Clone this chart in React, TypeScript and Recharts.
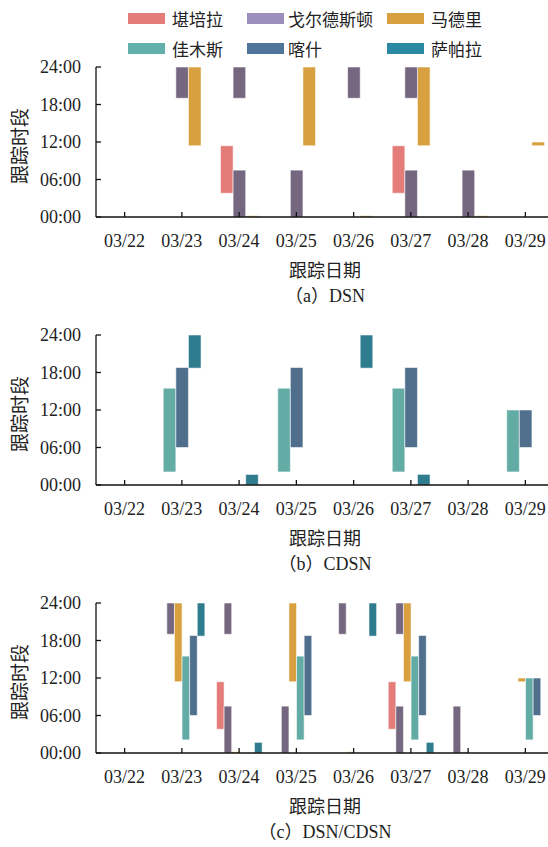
import { BarChart, Bar, XAxis, YAxis } from 'recharts';

// tracking dates (x categories)
const dates = ['03/22', '03/23', '03/24', '03/25', '03/26', '03/27', '03/28', '03/29'];

// y ticks (hours of day)
const yTickHours = [0, 6, 12, 18, 24];
const yTickLabels = ['00:00', '06:00', '12:00', '18:00', '24:00'];

const stationNames = ['堪培拉', '戈尔德斯顿', '马德里', '佳木斯', '喀什', '萨帕拉'];
const barColors = ['#E47C7A', '#75677F', '#D8A03F', '#63ABA5', '#4F6F8C', '#2E7C8E'];
const legendColors = ['#E47C7A', '#9D8EBE', '#D8A03F', '#63AFA9', '#50759A', '#2A8AA3'];

type Span = [number, number] | null;

// tracking windows per day, [start hour, end hour]; pass 2 = second window on same day
const canberraPass1: Span[] = [null, null, [3.8, 11.4], null, null, [3.8, 11.4], null, null];
const canberraPass2: Span[] = [null, null, null, null, null, null, null, null];
const goldstonePass1: Span[] = [null, [19, 24], [0, 7.5], [0, 7.5], [19, 24], [0, 7.5], [0, 7.5], null];
const goldstonePass2: Span[] = [null, null, [19, 24], null, null, [19, 24], null, null];
const madridPass1: Span[] = [null, [11.4, 24], [0, 0.2], [11.4, 24], [0, 0.2], [11.4, 24], [0, 0.2], [11.4, 12]];
const madridPass2: Span[] = [null, null, null, null, null, null, null, null];
const jiamusiPass1: Span[] = [null, [2.1, 15.5], null, [2.1, 15.5], null, [2.1, 15.5], null, [2.1, 12]];
const jiamusiPass2: Span[] = [null, null, null, null, null, null, null, null];
const kashiPass1: Span[] = [null, [6, 18.8], null, [6, 18.8], null, [6, 18.8], null, [6, 12]];
const kashiPass2: Span[] = [null, null, null, null, null, null, null, null];
const zapalaPass1: Span[] = [null, [18.7, 24], [0, 1.7], null, [18.7, 24], [0, 1.7], null, null];
const zapalaPass2: Span[] = [null, null, null, null, null, null, null, null];

const pass1 = [canberraPass1, goldstonePass1, madridPass1, jiamusiPass1, kashiPass1, zapalaPass1];
const pass2 = [canberraPass2, goldstonePass2, madridPass2, jiamusiPass2, kashiPass2, zapalaPass2];

const rows = dates.map((date, i) => {
  const row: Record<string, any> = { date };
  pass1.forEach((arr, k) => (row[`s${k}a`] = arr[i]));
  pass2.forEach((arr, k) => (row[`s${k}b`] = arr[i]));
  return row;
});

const FONT = "'Liberation Serif', 'Noto Sans CJK SC', serif";
const TXT = '#222';

function Panel({ top, ids, barSize, caption }: { top: number; ids: number[]; barSize: number; caption: string }) {
  const bars = (suffix: string, axis: string) =>
    ids.map((k) => (
      <Bar
        key={`${k}${suffix}`}
        xAxisId={axis}
        dataKey={`s${k}${suffix}`}
        fill={barColors[k]}
        stroke="rgba(255,255,255,0.55)"
        strokeWidth={1}
        barSize={barSize}
        isAnimationActive={false}
      />
    ));
  return (
    <div style={{ position: 'absolute', left: 0, top }}>
      <BarChart width={554} height={230} data={rows} margin={{ top: 10, right: 0, bottom: 0, left: 0 }} barGap={0}>
        <XAxis
          xAxisId="p1"
          dataKey="date"
          interval={0}
          height={70}
          stroke="#111"
          strokeWidth={1.3}
          tickSize={-5}
          tickMargin={22}
          tick={{ fontSize: 18, fill: TXT }}
          label={{ value: '跟踪日期', position: 'insideBottom', offset: 10, fill: TXT, fontSize: 18 }}
        />
        <XAxis xAxisId="p2" dataKey="date" hide />
        <YAxis
          type="number"
          domain={[0, 24]}
          ticks={yTickHours}
          interval={0}
          width={96}
          stroke="#111"
          strokeWidth={1.3}
          tickSize={-5}
          tickMargin={20}
          tick={{ fontSize: 18, fill: TXT }}
          tickFormatter={(v: number) => yTickLabels[yTickHours.indexOf(v)]}
          label={{ value: '跟踪时段', angle: -90, position: 'insideLeft', offset: 20, dy: 4, fill: TXT, fontSize: 19, style: { textAnchor: 'middle' } }}
        />
        {bars('a', 'p1')}
        {bars('b', 'p2')}
      </BarChart>
      <div style={{ position: 'absolute', left: 96, width: 458, top: 229, textAlign: 'center', fontSize: 18, lineHeight: '20px', color: TXT }}>
        {caption}
      </div>
    </div>
  );
}

const legendPos = [
  { x: 128, y: 18 }, { x: 247, y: 18 }, { x: 387, y: 18 },
  { x: 128, y: 48 }, { x: 247, y: 48 }, { x: 387, y: 48 },
];

export default function App() {
  return (
    <div style={{ position: 'absolute', left: 0, top: 0, width: 548, height: 847, overflow: 'hidden', background: '#fff', fontFamily: FONT }}>
      {stationNames.map((name, k) => (
        <div key={name} style={{ position: 'absolute', left: legendPos[k].x, top: legendPos[k].y - 11, height: 22, display: 'flex', alignItems: 'center', fontSize: 17, color: TXT }}>
          <span style={{ display: 'inline-block', width: 37, height: 11, background: legendColors[k], marginRight: k % 3 === 1 ? 4 : 7 }} />
          <span>{name}</span>
        </div>
      ))}
      <Panel top={57} ids={[0, 1, 2]} barSize={12.6} caption="（a）DSN" />
      <Panel top={325} ids={[3, 4, 5]} barSize={12.6} caption="（b）CDSN" />
      <Panel top={593} ids={[0, 1, 2, 3, 4, 5]} barSize={7.6} caption="（c）DSN/CDSN" />
    </div>
  );
}
